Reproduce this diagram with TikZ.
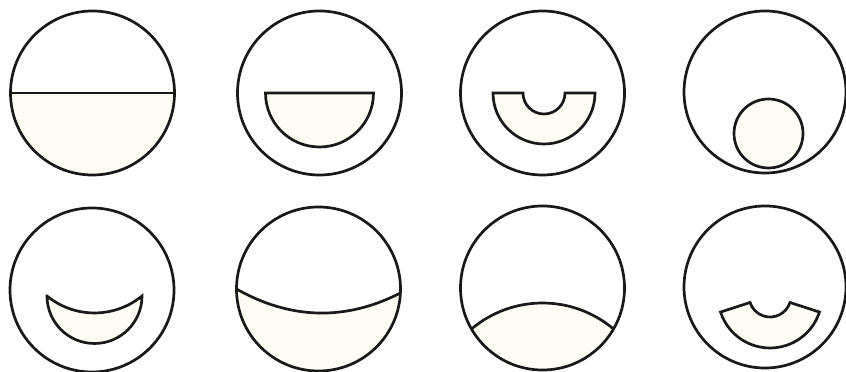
\documentclass[tikz,border=0pt]{standalone}
\usepackage{tikz}
\definecolor{cream}{RGB}{253,253,244}

\begin{document}
\begin{tikzpicture}[
  x=1pt, y=1pt,
  wall/.style={line width=2.7pt, draw=black!90},
  liquid/.style={wall, fill=cream},
]
  \useasboundingbox[fill=white] (0,0) rectangle (846,372);
  % top row
  \fill[cream] (10.5,279) arc[start angle=180, end angle=360, radius=82] -- cycle;
  \draw[wall] (10.5,279) -- (174.5,279);
  \draw[wall] (92.5,279) circle[radius=82];

  \draw[liquid] (265.5,279) arc[start angle=180, end angle=360, radius=54] -- cycle;
  \draw[wall] (319.5,279) circle[radius=82];

  \draw[liquid] (493,279) arc[start angle=180, end angle=360, radius=51]
    -- (565,279) arc[start angle=0, end angle=-180, radius=21] -- cycle;
  \draw[wall] (542.5,279) circle[radius=82];

  \draw[liquid] (768.5,238.5) circle[radius=34.5];
  \draw[wall] (765,280) circle[radius=81];

  % bottom row
  \draw[liquid] (47,76) arc[start angle=180, end angle=360, radius=47.5]
    arc[start angle=309.3, end angle=230.7, radius=75] -- cycle;
  \draw[wall] (92,82) circle[radius=82];

  \fill[cream] (236.5,83) .. controls (290.8,52.3) and (345.5,51) .. (400.4,79)
    arc[start angle=-2.8, end angle=-180, radius=82] -- cycle;
  \draw[wall] (236.5,83) .. controls (290.8,52.3) and (345.5,51) .. (400.4,79);
  \draw[wall] (318.5,83) circle[radius=82];

  \fill[cream] (471.5,43) arc[start angle=210, end angle=330, radius=82]
    arc[start angle=49.8, end angle=130.2, radius=110] -- cycle;
  \draw[wall] (613.5,43) arc[start angle=49.8, end angle=130.2, radius=110];
  \draw[wall] (542.5,84) circle[radius=82];

  \draw[liquid] ([shift={(770,76)}]198:52) arc[start angle=198, end angle=342, radius=52]
    -- ([shift={(770,76)}]342:21) arc[start angle=342, end angle=198, radius=21] -- cycle;
  \draw[wall] (765,85) circle[radius=81];
\end{tikzpicture}
\end{document}
